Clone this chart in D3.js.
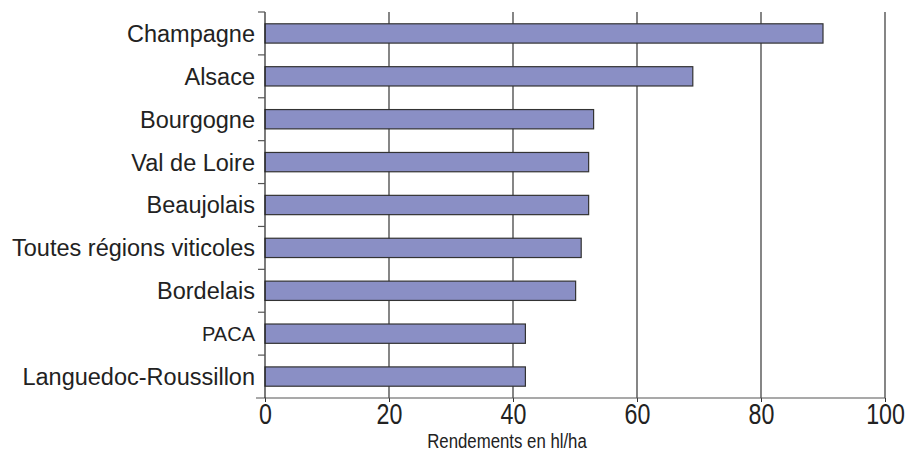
<!DOCTYPE html>
<html><head><meta charset="utf-8">
<script src="https://cdn.jsdelivr.net/npm/d3@7"></script>
<style>body{margin:0;background:#fff}svg{display:block}</style>
</head><body><svg id="c" width="906" height="452"></svg>
<script>
const categories = ["Champagne","Alsace","Bourgogne","Val de Loire","Beaujolais","Toutes régions viticoles","Bordelais","PACA","Languedoc-Roussillon"];
const values = [90,69,53,52.2,52.2,51,50.1,42,42];
const xTicks = [0,20,40,60,80,100];
const xTitle = "Rendements en hl/ha";

const W=906,H=452, m={top:12,right:21,bottom:54,left:265};
const svg=d3.select("#c");
const x=d3.scaleLinear().domain([0,100]).range([m.left,W-m.right]);
const y=d3.scaleBand().domain(categories).range([m.top,H-m.bottom]).paddingInner(0.55).paddingOuter(0.275);

// gridlines
svg.append("g").selectAll("line").data(xTicks.filter(d=>d>0)).join("line")
  .attr("x1",d=>x(d)).attr("x2",d=>x(d)).attr("y1",m.top).attr("y2",H-m.bottom)
  .attr("stroke","#222").attr("stroke-width",1.1);

// bars
svg.append("g").selectAll("rect").data(categories).join("rect")
  .attr("x",x(0)).attr("y",d=>y(d)).attr("height",y.bandwidth())
  .attr("width",(d,i)=>x(values[i])-x(0))
  .attr("fill","#8a8fc5").attr("stroke","#333").attr("stroke-width",1.2);

// x axis
const xa=svg.append("g").attr("transform",`translate(0,${H-m.bottom})`)
  .call(d3.axisBottom(x).tickValues(xTicks).tickSize(4).tickPadding(1).tickFormat(d3.format("d")));
xa.select(".domain").remove();
xa.append("line").attr("x1",m.left-9).attr("x2",x(100)).attr("y1",0).attr("y2",0).attr("stroke","#555").attr("stroke-width",1.2);
xa.selectAll(".tick line").attr("stroke","#333");
xa.selectAll(".tick text").attr("fill","#222").attr("font-family","'Liberation Sans',Arial,sans-serif")
  .attr("font-size",29).attr("dy","0.71em").attr("transform","scale(0.8,1)");

// y axis
svg.append("line").attr("x1",x(0)).attr("x2",x(0)).attr("y1",m.top).attr("y2",H-m.bottom).attr("stroke","#222").attr("stroke-width",1.2);
const bounds=categories.map(c=>y(c)+y.bandwidth()/2-y.step()/2);
svg.append("g").selectAll("line").data(bounds).join("line")
  .attr("x1",x(0)-7).attr("x2",x(0)).attr("y1",d=>d).attr("y2",d=>d).attr("stroke","#555").attr("stroke-width",1.2);
svg.append("g").selectAll("text").data(categories).join("text")
  .attr("x",x(0)-10).attr("y",d=>y(d)+y.bandwidth()/2).attr("dy","0.36em")
  .attr("text-anchor","end").attr("fill","#222")
  .attr("font-family","'Liberation Sans',Arial,sans-serif")
  .attr("font-size",d=>d.length<=4?20:23.5).text(d=>d);

// x title
svg.append("text").attr("transform","translate(507,448) scale(0.8,1)").attr("text-anchor","middle").attr("fill","#222")
  .attr("font-family","'Liberation Sans',Arial,sans-serif").attr("font-size",21).text(xTitle);
</script></body></html>
